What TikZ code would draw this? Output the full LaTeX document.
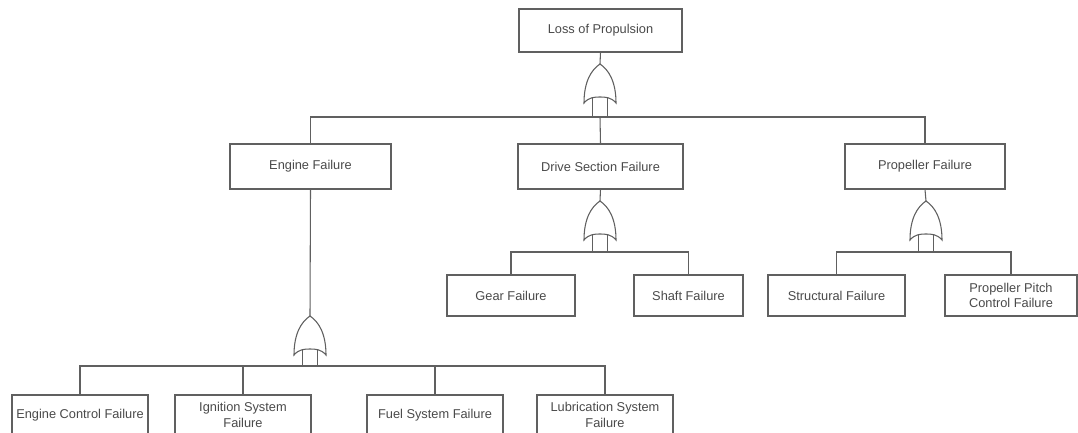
\documentclass[tikz,border=0pt]{standalone}
\usepackage{fontspec}
\setmainfont{Liberation Sans}
\definecolor{linegray}{HTML}{606060}
\definecolor{textgray}{HTML}{4A4A4A}
\tikzset{
  box/.style={draw=linegray, line width=0.8pt, fill=white, text=textgray, align=center,
    inner sep=0pt, font=\fontsize{9.6}{11.8}\selectfont},
  conn/.style={draw=linegray, line width=0.8pt},
  pics/orgate/.style={code={
    \draw[conn, fill=white] (0,0) .. controls (9,6) and (16,18) .. (16,39)
      .. controls (11,33) and (5,33) .. (0,33)
      .. controls (-5,33) and (-11,33) .. (-16,39)
      .. controls (-16,18) and (-9,6) .. (0,0) -- cycle;
    \draw[conn] (-7.5,33) -- (-7.5,#1);
    \draw[conn] (7.5,33) -- (7.5,#1);
    \coordinate (-tip) at (0,0);
  }}
}
\begin{document}
\begin{tikzpicture}[x=0.75pt,y=-0.75pt]
\useasboundingbox[fill=white] (0,0) rectangle (1078,432);
\clip (0,0) rectangle (1078,432);

% boxes
\node[box, minimum width=163*0.75pt, minimum height=43*0.75pt] (top) at (600.5,30.5) {Loss of Propulsion};
\node[box, minimum width=161*0.75pt, minimum height=45*0.75pt] (eng) at (310.5,166.5) {Engine Failure};
\node[box, minimum width=165*0.75pt, minimum height=45*0.75pt] (drive) at (600.5,166.5) {Drive Section Failure};
\node[box, minimum width=160*0.75pt, minimum height=45*0.75pt] (prop) at (925,166.5) {Propeller Failure};

\node[box, minimum width=128*0.75pt, minimum height=41*0.75pt] (gear) at (511,295.5) {Gear Failure};
\node[box, minimum width=109*0.75pt, minimum height=41*0.75pt] (shaft) at (688.5,295.5) {Shaft Failure};
\node[box, minimum width=137*0.75pt, minimum height=41*0.75pt] (struct) at (836.5,295.5) {Structural Failure};
\node[box, minimum width=132*0.75pt, minimum height=41*0.75pt] (pitch) at (1011,295.5) {Propeller Pitch\\Control Failure};

\node[box, minimum width=136*0.75pt, minimum height=40*0.75pt] (ecf) at (80,415) {Engine Control Failure};
\node[box, minimum width=136*0.75pt, minimum height=40*0.75pt] (ign) at (243,415) {Ignition System\\Failure};
\node[box, minimum width=136*0.75pt, minimum height=40*0.75pt] (fuel) at (435,415) {Fuel System Failure};
\node[box, minimum width=136*0.75pt, minimum height=40*0.75pt] (lub) at (605,415) {Lubrication System\\Failure};

% gates
\pic (g0) at (600,64) {orgate=53};
\pic (g1) at (310,316) {orgate=50};
\pic (g2) at (600,201) {orgate=51};
\pic (g3) at (926,201) {orgate=51};

% junction coordinates
\coordinate (h0) at (600,117);
\coordinate (h1) at (310,366);
\coordinate (h2) at (600,252);
\coordinate (h3) at (926,252);

% connectors
\draw[conn] (top.south) -- (g0-tip);
\draw[conn] (eng.north) |- (h0) -| (prop.north);
\draw[conn] (h0) -- (drive.north);

\draw[conn] (eng.south) -- (g1-tip);
\draw[conn] (ecf.north) |- (h1) -| (lub.north);
\draw[conn] (ign.north) -- (ign.north |- h1);
\draw[conn] (fuel.north) -- (fuel.north |- h1);

\draw[conn] (drive.south) -- (g2-tip);
\draw[conn] (gear.north) |- (h2) -| (shaft.north);

\draw[conn] (prop.south) -- (g3-tip);
\draw[conn] (struct.north) |- (h3) -| (pitch.north);
\end{tikzpicture}
\end{document}
